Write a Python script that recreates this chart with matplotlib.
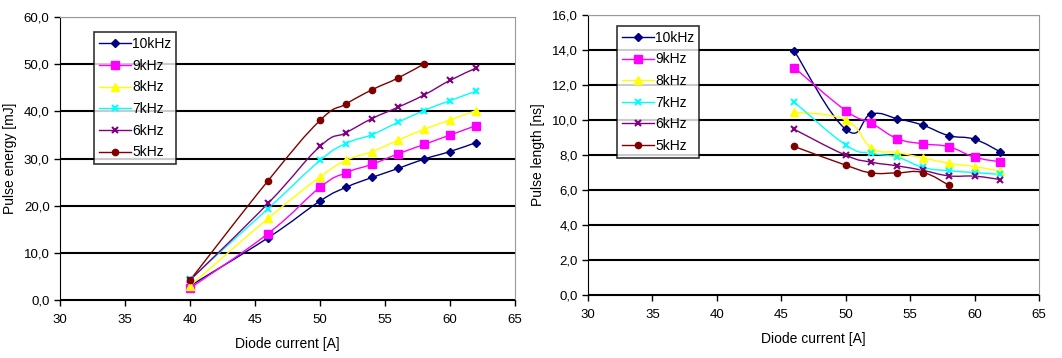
import numpy as np
import matplotlib.pyplot as plt
from matplotlib.path import Path
from matplotlib.patches import PathPatch
from matplotlib.ticker import FuncFormatter

plt.rcParams['font.family'] = ['Liberation Sans', 'DejaVu Sans']

labels = ['10kHz', '9kHz', '8kHz', '7kHz', '6kHz', '5kHz']
colors = ['#000080', '#FF00FF', '#FFFF00', '#00FFFF', '#800080', '#800000']
markers = ['D', 's', '^', 'x', 'x', 'o']
msizes = [4, 6, 6, 5, 5, 4.5]

# pulse energy [mJ] vs diode current [A]
current_e = [40, 46, 50, 52, 54, 56, 58, 60, 62]
energy_10k = [3.0, 13.2, 21.0, 23.9, 26.0, 27.9, 29.9, 31.5, 33.4]
energy_9k = [2.5, 14.1, 23.9, 27.0, 28.8, 31.0, 33.0, 35.0, 37.0]
energy_8k = [3.0, 17.3, 26.1, 29.6, 31.5, 33.9, 36.2, 38.2, 40.2]
energy_7k = [4.4, 19.4, 29.6, 33.2, 35.1, 37.7, 40.2, 42.3, 44.3]
energy_6k = [4.2, 20.5, 32.6, 35.5, 38.5, 40.9, 43.5, 46.6, 49.2]
energy_5k = [4.2, 25.3, 38.1, 41.6, 44.6, 47.1, 50.1]

# pulse length [ns] vs diode current [A]
current_l = [46, 50, 52, 54, 56, 58, 60, 62]
length_10k = [13.95, 9.47, 10.35, 10.08, 9.7, 9.11, 8.9, 8.18]
length_9k = [13.0, 10.54, 9.82, 8.94, 8.64, 8.47, 7.88, 7.61]
length_8k = [10.45, 10.0, 8.41, 8.14, 7.84, 7.53, 7.34, 7.08]
length_7k = [11.03, 8.58, 8.1, 7.88, 7.29, 7.1, 7.0, 6.89]
length_6k = [9.47, 7.99, 7.59, 7.38, 7.12, 6.81, 6.79, 6.6]
length_5k = [8.49, 7.42, 6.98, 6.98, 7.0, 6.28]

energies = [energy_10k, energy_9k, energy_8k, energy_7k, energy_6k, energy_5k]
lengths = [length_10k, length_9k, length_8k, length_7k, length_6k, length_5k]


def smooth_path(x, y, k=0.22):
    # excel-like smoothed line, bezier segments through the points
    p = np.column_stack([x, y]).astype(float)
    n = len(p)
    verts = [p[0]]
    codes = [Path.MOVETO]
    for i in range(n - 1):
        p0 = p[i - 1] if i > 0 else p[i]
        p3 = p[i + 2] if i + 2 < n else p[i + 1]
        c1 = p[i] + (p[i + 1] - p0) * k
        c2 = p[i + 1] - (p3 - p[i]) * k
        verts += [c1, c2, p[i + 1]]
        codes += [Path.CURVE4] * 3
    return Path(verts, codes)


def comma(v, pos):
    return ('%.1f' % v).replace('.', ',')


def draw(ax, xs, series, ymax, ystep, ylabel):
    for ys, lab, c, m, ms in zip(series, labels, colors, markers, msizes):
        x = xs[:len(ys)]
        ax.add_patch(PathPatch(smooth_path(x, ys), fill=False, edgecolor=c, lw=1.0, zorder=3))
        ax.plot(x, ys, ls='none', marker=m, color=c, ms=ms, mew=1.5 if m == 'x' else 1, zorder=4)
        # legend proxy
        ax.plot([], [], color=c, marker=m, ms=ms, lw=1.0, mew=1.5 if m == 'x' else 1, label=lab)
    ax.set_xlim(30, 65)
    ax.set_ylim(0, ymax)
    ax.set_xticks(np.arange(30, 66, 5))
    ax.set_yticks(np.arange(0, ymax + 0.01, ystep))
    ax.yaxis.set_major_formatter(FuncFormatter(comma))
    ax.grid(axis='y', color='black', lw=1.5)
    ax.set_axisbelow(True)
    for s in ['top', 'right']:
        ax.spines[s].set_color('#999999')
    ax.tick_params(direction='out', length=4, labelsize=9.5, width=1)
    ax.tick_params(axis='x', pad=6)
    ax.set_xlabel('Diode current [A]', fontsize=10, labelpad=8)
    ax.set_ylabel(ylabel, fontsize=10, labelpad=5)


fig = plt.figure(figsize=(10.62, 3.58), dpi=100)
ax1 = fig.add_axes([0.0565, 0.162, 0.4285, 0.79])
ax2 = fig.add_axes([0.5537, 0.176, 0.4246, 0.782])

draw(ax1, current_e, energies, 60, 10, 'Pulse energy [mJ]')
draw(ax2, current_l, lengths, 16, 2, 'Pulse length [ns]')

for ax, loc in [(ax1, (0.075, 0.48)), (ax2, (0.064, 0.49))]:
    leg = ax.legend(loc='lower left', bbox_to_anchor=loc, fontsize=10, frameon=True,
                    fancybox=False, edgecolor='black', handlelength=2.3,
                    handletextpad=0.1, borderpad=0.35, labelspacing=0.55, borderaxespad=0)
    leg.get_frame().set_linewidth(1.2)

fig.savefig('out.png', dpi=100)
